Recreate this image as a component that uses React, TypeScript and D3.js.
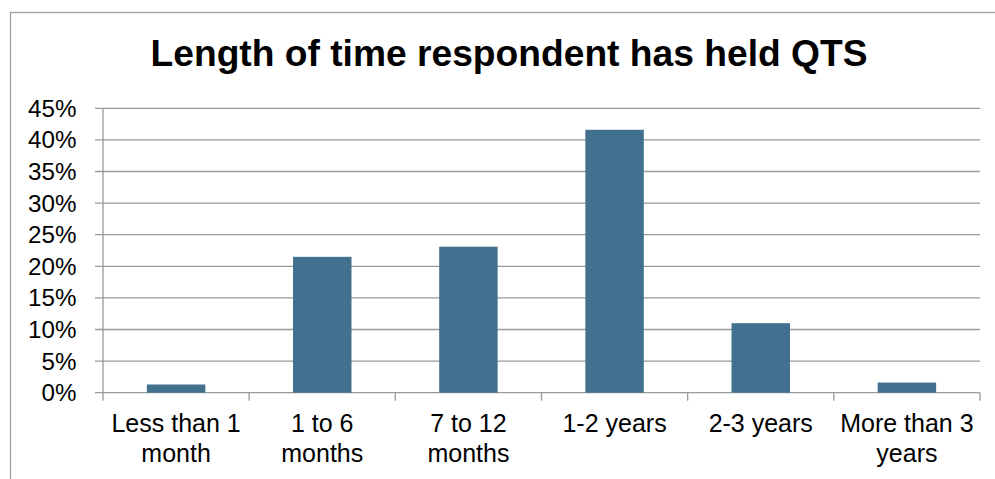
import React from "react";
import * as d3 from "d3";

const categories: string[][] = [
  ["Less than 1", "month"],
  ["1 to 6", "months"],
  ["7 to 12", "months"],
  ["1-2 years"],
  ["2-3 years"],
  ["More than 3", "years"],
];
const values: number[] = [0.013, 0.215, 0.231, 0.416, 0.11, 0.016];
const yTicks: number[] = [0, 0.05, 0.1, 0.15, 0.2, 0.25, 0.3, 0.35, 0.4, 0.45];
const title = "Length of time respondent has held QTS";

export default function App() {
  const W = 995, H = 479;
  const left = 103, right = 980, top = 108.3, bottom = 392.7;
  const x = d3.scaleBand<number>().domain(d3.range(categories.length)).range([left, right]).paddingInner(0.6).paddingOuter(0.3);
  const xb = d3.scaleBand<number>().domain(d3.range(categories.length)).range([left, right]);
  const y = d3.scaleLinear().domain([0, 0.45]).range([bottom, top]);
  const fmt = d3.format(".0%");
  const font = "Liberation Sans, Arial, sans-serif";
  return (
    <svg width={W} height={H} style={{ position: "absolute", left: 0, top: 0 }}>
      <rect x={0} y={0} width={W} height={H} fill="#fff" />
      <rect x={10.5} y={12.5} width={W + 20} height={H + 20} fill="none" stroke="#a0a0a0" strokeWidth={1.3} />
      <text x={509} y={66} textAnchor="middle" fontFamily={font} fontWeight="bold" fontSize={37.2} fill="#000">{title}</text>
      {yTicks.map((t) => (
        <g key={t}>
          <line x1={left - 8} x2={right} y1={y(t)} y2={y(t)} stroke="#9a9a9a" strokeWidth={1.3} />
          <text x={76.5} y={y(t) + 8.5} textAnchor="end" fontFamily={font} fontSize={24.2} fill="#000">{fmt(t)}</text>
        </g>
      ))}
      <line x1={left} x2={left} y1={top} y2={bottom} stroke="#9a9a9a" strokeWidth={1.3} />
      {d3.range(categories.length + 1).map((i) => {
        const xx = left + i * xb.bandwidth();
        return <line key={i} x1={xx} x2={xx} y1={bottom} y2={bottom + 8} stroke="#9a9a9a" strokeWidth={1.3} />;
      })}
      {values.map((v, i) => (
        <rect key={i} x={x(i)} y={y(v)} width={x.bandwidth()} height={bottom - y(v)} fill="#41718f" />
      ))}
      {categories.map((lines, i) => (
        <text key={i} textAnchor="middle" fontFamily={font} fontSize={25} fill="#000">
          {lines.map((l, j) => (
            <tspan key={j} x={(xb(i) as number) + xb.bandwidth() / 2} y={432 + j * 30}>{l}</tspan>
          ))}
        </text>
      ))}
    </svg>
  );
}
